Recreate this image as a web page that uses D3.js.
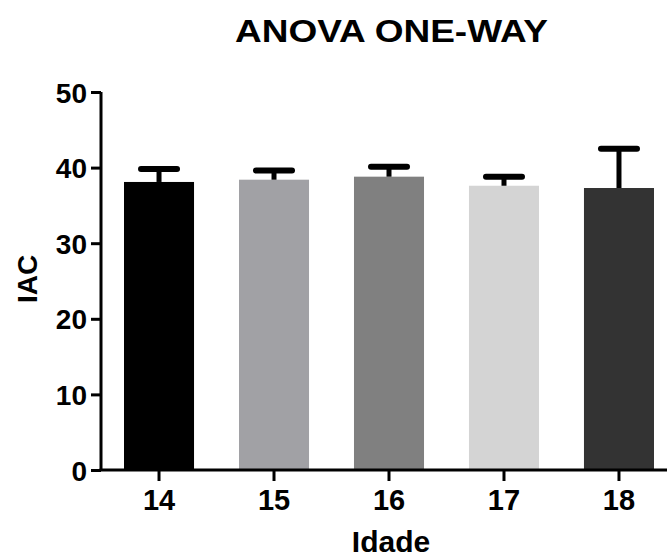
<!DOCTYPE html>
<html lang="en">
<head>
<meta charset="UTF-8">
<title>ANOVA ONE-WAY</title>
<script src="https://d3js.org/d3.v7.min.js"></script>
<style>
    html, body { margin: 0; background: #fff; overflow: hidden; }
    text { font-family: Arial, "Liberation Sans", sans-serif; font-weight: bold; fill: #000; }
</style>
</head>
<body>
<svg id="svg"></svg>
<script>
    // data
    const categories = ['14', '15', '16', '17', '18'];
    const means = [38.1, 38.4, 38.8, 37.6, 37.3];
    const upperErr = [39.8, 39.6, 40.1, 38.8, 42.5];
    const yTicks = [0, 10, 20, 30, 40, 50];
    const barColors = ['#000000', '#a1a1a5', '#808080', '#d4d4d4', '#333333'];

    const width = 667, height = 553;
    const svg = d3.select('#svg').attr('width', width).attr('height', height);

    const x = d3.scaleBand().domain(categories)
        .range([101.5, 676.5]).paddingInner(0.391).paddingOuter(0.1957);
    const y = d3.scaleLinear().domain([0, 50]).range([470, 92]);

    // bars
    svg.selectAll('.bar').data(categories).join('rect')
        .attr('class', 'bar')
        .attr('x', d => x(d))
        .attr('width', x.bandwidth())
        .attr('y', (d, i) => y(means[i]))
        .attr('height', (d, i) => y(0) - y(means[i]))
        .attr('fill', (d, i) => barColors[i]);

    // error bars (upper only)
    const eb = svg.selectAll('.err').data(categories).join('g').attr('class', 'err');
    eb.append('line')
        .attr('x1', d => x(d) + x.bandwidth() / 2)
        .attr('x2', d => x(d) + x.bandwidth() / 2)
        .attr('y1', (d, i) => y(means[i]))
        .attr('y2', (d, i) => y(upperErr[i]))
        .attr('stroke', '#000').attr('stroke-width', 5);
    eb.append('line')
        .attr('x1', d => x(d) + x.bandwidth() / 2 - 18)
        .attr('x2', d => x(d) + x.bandwidth() / 2 + 18)
        .attr('y1', (d, i) => y(upperErr[i]))
        .attr('y2', (d, i) => y(upperErr[i]))
        .attr('stroke', '#000').attr('stroke-width', 6)
        .attr('stroke-linecap', 'round');

    // y axis
    const yAxis = svg.append('g').attr('transform', 'translate(101,0)')
        .call(d3.axisLeft(y).tickValues(yTicks).tickSize(10).tickPadding(4));
    yAxis.select('.domain').attr('d', `M0,${y(50)}V${y(0)}`).attr('stroke-width', 3);
    yAxis.selectAll('.tick line').attr('stroke-width', 3);
    yAxis.selectAll('text').style('font-size', '28px').attr('dy', '0.36em');

    // x axis
    const xAxis = svg.append('g').attr('transform', `translate(0,${y(0)})`)
        .call(d3.axisBottom(x).tickSize(11).tickPadding(8));
    xAxis.select('.domain').attr('d', `M99.5,0H${width}`).attr('stroke-width', 3);
    xAxis.selectAll('.tick line').attr('stroke-width', 3);
    xAxis.selectAll('text').style('font-size', '29px');

    // titles
    svg.append('text').attr('x', 235).attr('y', 42).style('font-size', '31px')
        .attr('textLength', 313).attr('lengthAdjust', 'spacingAndGlyphs')
        .text('ANOVA ONE-WAY');
    svg.append('text').attr('transform', 'translate(37,279) rotate(-90)')
        .attr('text-anchor', 'middle').style('font-size', '28px')
        .text('IAC');
    svg.append('text').attr('x', 391).attr('y', 552)
        .attr('text-anchor', 'middle').style('font-size', '30px')
        .text('Idade');
</script>
</body>
</html>
